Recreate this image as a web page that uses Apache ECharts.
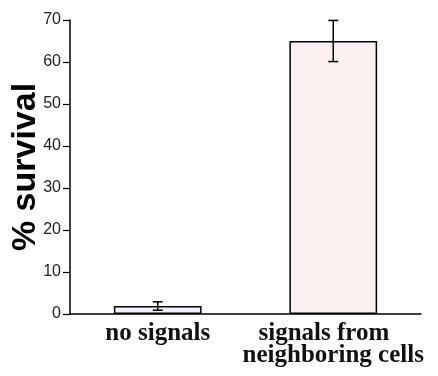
<!DOCTYPE html>
<html>
<head>
<meta charset="utf-8">
<script src="https://cdn.jsdelivr.net/npm/echarts@6/dist/echarts.min.js"></script>
<style>
  html, body { margin: 0; padding: 0; background: #fff; }
  #chart { width: 438px; height: 376px; }
</style>
</head>
<body>
<div id="chart"></div>
<script>
var categories = ['no signals', 'signals from   \nneighboring cells'];
var survival = [1.9, 65];
var survivalErr = [1.0, 4.9];
var yTicks = [0, 10, 20, 30, 40, 50, 60, 70];
var barColors = ['#eef0fa', '#fdf0f0'];

var myChart = echarts.init(document.getElementById('chart'));

var errData = survival.map(function (v, i) {
    return [i, v - survivalErr[i], v + survivalErr[i]];
});

var option = {
    animation: false,
    grid: { left: 70, right: 17, top: 20, bottom: 62, outerBoundsMode: 'none', containLabel: false },
    xAxis: {
        type: 'category',
        data: categories,
        axisLine: { lineStyle: { color: '#000', width: 1.5 } },
        axisTick: { show: false },
        axisLabel: {
            color: '#111',
            fontFamily: 'Liberation Serif',
            fontWeight: 'bold',
            fontSize: 25,
            lineHeight: 22,
            margin: 9,
            interval: 0
        }
    },
    yAxis: {
        type: 'value',
        min: yTicks[0],
        max: yTicks[yTicks.length - 1],
        interval: 10,
        name: '% survival',
        nameLocation: 'middle',
        nameGap: 27,
        nameMoveOverlap: false,
        nameTextStyle: {
            color: '#000',
            fontFamily: 'Liberation Sans',
            fontWeight: 'bold',
            fontSize: 34
        },
        splitLine: { show: false },
        axisLine: { show: true, lineStyle: { color: '#000', width: 1.5 } },
        axisTick: { show: true, length: 7, lineStyle: { color: '#000', width: 1.2 } },
        axisLabel: {
            color: '#222',
            fontFamily: 'Liberation Sans',
            fontSize: 16,
            margin: 9
        }
    },
    series: [
        {
            type: 'bar',
            barWidth: '50%',
            data: survival.map(function (v, i) {
                return { value: v, itemStyle: { color: barColors[i] } };
            }),
            itemStyle: { borderColor: '#000', borderWidth: 1.5 }
        },
        {
            type: 'custom',
            data: errData,
            renderItem: function (params, api) {
                var lo = api.coord([api.value(0), api.value(1)]);
                var hi = api.coord([api.value(0), api.value(2)]);
                var cap = 5;
                var style = { stroke: '#000', lineWidth: 1.5 };
                return {
                    type: 'group',
                    children: [
                        { type: 'line', shape: { x1: lo[0], y1: lo[1], x2: hi[0], y2: hi[1] }, style: style },
                        { type: 'line', shape: { x1: lo[0] - cap, y1: lo[1], x2: lo[0] + cap, y2: lo[1] }, style: style },
                        { type: 'line', shape: { x1: hi[0] - cap, y1: hi[1], x2: hi[0] + cap, y2: hi[1] }, style: style }
                    ]
                };
            },
            z: 5
        }
    ]
};

myChart.setOption(option);
</script>
</body>
</html>
